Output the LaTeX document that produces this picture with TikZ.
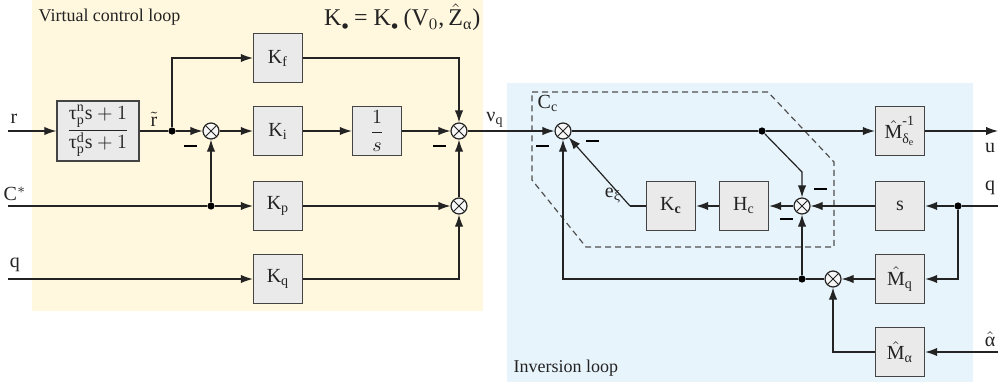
\documentclass[tikz,border=0pt]{standalone}
\usepackage{amsmath}
\usepackage{fontspec}
\setmainfont{Liberation Serif}
\usetikzlibrary{arrows.meta}
\definecolor{ctrlbg}{RGB}{255,247,222}
\definecolor{invbg}{RGB}{232,244,251}
\definecolor{blkfill}{RGB}{234,234,234}
\definecolor{wire}{RGB}{35,35,35}

\begin{document}
\begin{tikzpicture}[x=0.5pt,y=-0.5pt,line width=0.6pt,color=wire,
  blk/.style={draw=wire!85,fill=blkfill,line width=0.7pt,minimum width=24.5pt,minimum height=24.5pt,inner sep=1pt},
  sum/.style={circle,draw=wire,fill=blkfill!40,minimum size=8pt,inner sep=0pt,
    path picture={\draw[wire,line width=0.5pt] (path picture bounding box.north west)--(path picture bounding box.south east)
      (path picture bounding box.north east)--(path picture bounding box.south west);}},
  dot/.style={circle,fill=black,inner sep=0pt,minimum size=3.6pt},
  minus/.style={fill=black,inner sep=0pt,minimum width=6.5pt,minimum height=1pt},
  sig/.style={draw=wire,-{Latex[length=6pt,width=4.2pt]}},
  lbl/.style={inner sep=0pt}]
  \useasboundingbox (0,0) rectangle (999,391);
  % loop backgrounds
  \fill[ctrlbg] (32,0) rectangle (483,311);
  \fill[invbg] (507,83) rectangle (973,382);
  \node[lbl,anchor=west,font=\small] (vcl) at (38,17) {Virtual control loop};
  \node[lbl,anchor=east,font=\large] (kform) at (481,17) {K$_{\scriptscriptstyle\bullet}$\,= K$_{\scriptscriptstyle\bullet}$\,(V$_0$,\,$\hat{\text{Z}}_\text{α}$)};
  \node[lbl,anchor=west,font=\small] (inv) at (513,368) {Inversion loop};
  % virtual control loop
  \coordinate (rin) at (8,131);
  \coordinate (cin) at (8,206);
  \coordinate (qin) at (8,279);
  \node[lbl] (rlab) at (14,119) {r};
  \node[lbl] (clab) at (15,194) {C$^*$};
  \node[lbl] (qlab) at (15,265) {q};
  \node[blk,minimum width=41pt,minimum height=30pt] (filt) at (98,131) {$\dfrac{\text{τ}^\text{n}_\text{p}\text{s}+1}{\text{τ}^\text{d}_\text{p}\text{s}+1}$};
  \node[lbl] (rt) at (154,119) {$\tilde{\text{r}}$};
  \node[dot] (jr) at (172,131) {};
  \node[sum] (s1) at (211,131) {};
  \node[dot] (jc) at (211,206) {};
  \node[blk] (kf) at (278,58) {K$_\text{f}$};
  \node[blk] (ki) at (278,131) {K$_\text{i}$};
  \node[blk] (kp) at (278,206) {K$_\text{p}$};
  \node[blk] (kq) at (278,279) {K$_\text{q}$};
  \node[blk] (integ) at (377,131) {$\dfrac{1}{s}$};
  \node[sum] (s2) at (459,131) {};
  \node[sum] (s3) at (459,206) {};
  \node[minus] (m1) at (190,146) {};
  \node[minus] (m2) at (439,146) {};
  \draw[sig] (rin) -- (filt);
  \draw (filt) -- (jr);
  \draw[sig] (jr) -- (s1);
  \draw[sig] (jr) |- (kf);
  \draw[sig] (s1) -- (ki);
  \draw[sig] (ki) -- (integ);
  \draw[sig] (integ) -- (s2);
  \draw[sig] (kf) -| (s2);
  \draw (cin) -- (jc);
  \draw[sig] (jc) -- (kp);
  \draw[sig] (jc) -- (s1);
  \draw[sig] (kp) -- (s3);
  \draw[sig] (qin) -- (kq);
  \draw[sig] (kq) -| (s3);
  \draw[sig] (s3) -- (s2);
  % inversion loop
  \node[lbl] (nuq) at (495,120) {ν$_\text{q}$};
  \node[sum] (s4) at (563,131) {};
  \node[lbl] (cc) at (548,103) {C$_\text{c}$};
  \node[dot] (j1) at (762,131) {};
  \coordinate (bend1) at (802,172);
  \node[blk] (minv) at (900,131) {$\hat{\text{M}}^{\text{-1}}_{\text{δ}_\text{e}}$};
  \coordinate (uout) at (998,131);
  \node[lbl] (ulab) at (990,148) {u};
  \node[sum] (s5) at (802,206) {};
  \node[blk] (ssb) at (900,206) {s};
  \node[blk] (hc) at (744,206) {H$_\text{c}$};
  \node[blk] (kc) at (671,206) {K$_\textbf{c}$};
  \coordinate (exi) at (630,206);
  \node[lbl] (exilab) at (613,196) {e$_\text{ξ}$};
  \coordinate (qin2) at (998,206);
  \node[lbl] (qlab2) at (990,188) {q};
  \node[dot] (jq) at (958,206) {};
  \node[blk] (mq) at (900,279) {$\hat{\text{M}}_\text{q}$};
  \node[sum] (s6) at (833,279) {};
  \node[dot] (j2) at (802,279) {};
  \node[blk] (ma) at (900,352) {$\hat{\text{M}}_\text{α}$};
  \coordinate (ain) at (998,352);
  \node[lbl] (alab) at (990,339) {$\hat{\text{α}}$};
  \node[minus] (m3) at (542,146) {};
  \node[minus] (m4) at (592,141) {};
  \node[minus] (m5) at (820,189) {};
  \node[minus] (m6) at (786,219) {};
  \draw[dashed,dash pattern=on 3pt off 2pt,draw=wire!80] (532,92) -- (768,92) -- (834,162) -- (834,247) -- (586,247) -- (532,180) -- cycle;
  \draw[sig] (s2) -- (s4);
  \draw (s4) -- (j1);
  \draw[sig] (j1) -- (minv);
  \draw[sig] (minv) -- (uout);
  \draw[sig] (j1) -- (bend1) -- (s5);
  \draw (qin2) -- (jq);
  \draw[sig] (jq) -- (ssb);
  \draw[sig] (jq) |- (mq);
  \draw[sig] (ssb) -- (s5);
  \draw[sig] (s5) -- (hc);
  \draw[sig] (hc) -- (kc);
  \draw (kc) -- (exi);
  \draw[sig] (exi) -- (s4);
  \draw[sig] (mq) -- (s6);
  \draw (s6) -- (j2);
  \draw[sig] (j2) -- (s5);
  \draw[sig] (j2) -| (s4);
  \draw[sig] (ain) -- (ma);
  \draw[sig] (ma) -| (s6);
\end{tikzpicture}
\end{document}
